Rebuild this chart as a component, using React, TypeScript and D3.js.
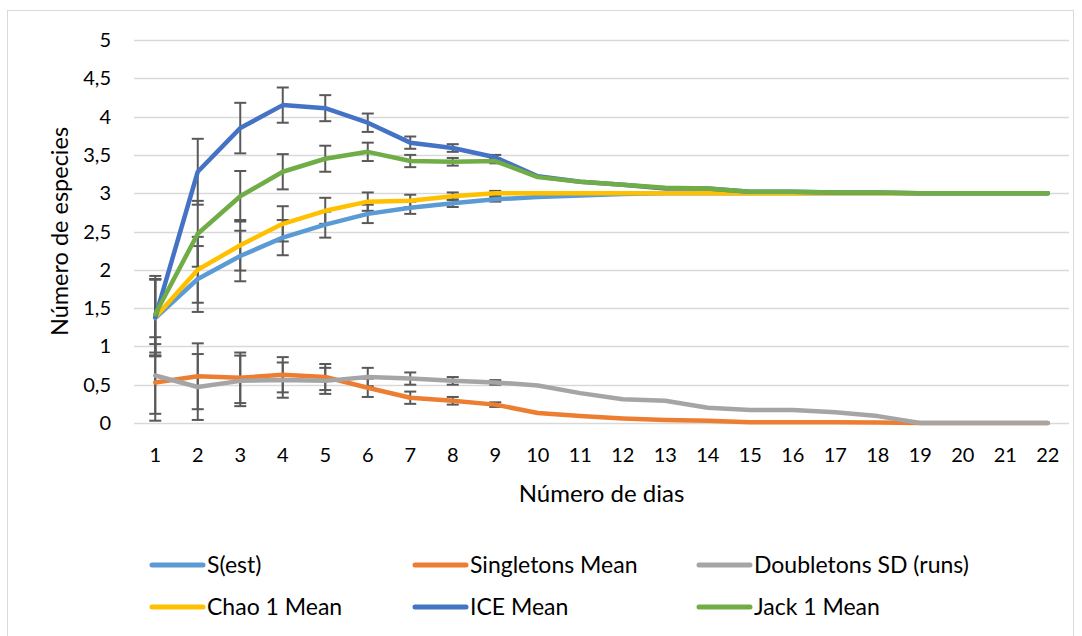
import React, { useEffect, useRef } from 'react';
import * as d3 from 'd3';

const days = d3.range(1, 23).map(String);
const yTicks = [0, 0.5, 1, 1.5, 2, 2.5, 3, 3.5, 4, 4.5, 5];

const sEst = [1.37, 1.88, 2.18, 2.42, 2.59, 2.73, 2.81, 2.87, 2.92, 2.95, 2.97, 2.99, 3, 3, 3, 3, 3, 3, 3, 3, 3, 3];
const singletons = [0.53, 0.61, 0.59, 0.63, 0.6, 0.46, 0.33, 0.29, 0.24, 0.13, 0.09, 0.06, 0.04, 0.03, 0.01, 0.01, 0.01, 0.005, 0, 0, 0, 0];
const doubletons = [0.62, 0.47, 0.55, 0.56, 0.55, 0.6, 0.58, 0.55, 0.53, 0.49, 0.39, 0.31, 0.29, 0.2, 0.17, 0.17, 0.14, 0.09, 0, 0, 0, 0];
const chao1 = [1.38, 2.0, 2.32, 2.6, 2.77, 2.89, 2.9, 2.96, 3, 3, 3, 3, 3, 3, 3, 3, 3, 3, 3, 3, 3, 3];
const ice = [1.38, 3.28, 3.85, 4.15, 4.11, 3.92, 3.66, 3.59, 3.47, 3.22, 3.15, 3.11, 3.06, 3.06, 3.02, 3.02, 3.01, 3.01, 3, 3, 3, 3];
const jack1 = [1.42, 2.47, 2.96, 3.28, 3.45, 3.54, 3.42, 3.41, 3.42, 3.21, 3.15, 3.11, 3.07, 3.06, 3.02, 3.02, 3.01, 3.01, 3, 3, 3, 3];
// SD shown as error bars (same for every series)
const sd = [0.5, 0.43, 0.33, 0.23, 0.17, 0.12, 0.08, 0.05, 0.03, 0, 0, 0, 0, 0, 0, 0, 0, 0, 0, 0, 0, 0];

const seriesNames = ['S(est)', 'Singletons Mean', 'Doubletons SD (runs)', 'Chao 1 Mean', 'ICE Mean', 'Jack 1 Mean'];
const seriesValues = [sEst, singletons, doubletons, chao1, ice, jack1];
const seriesColors = ['#5B9BD5', '#ED7D31', '#A5A5A5', '#FFC000', '#4472C4', '#70AD47'];

const FONT = 'Lato, "Open Sans", sans-serif';

export default function App() {
	const ref = useRef<SVGSVGElement>(null);

	useEffect(() => {
		const plot = { left: 134, right: 1069, top: 40, bottom: 423 };
		const svg = d3.select(ref.current);
		svg.selectAll('*').remove();

		// chart area border
		svg.append('rect')
			.attr('x', 7.5)
			.attr('y', 10.5)
			.attr('width', 1066)
			.attr('height', 660)
			.attr('fill', 'white')
			.attr('stroke', '#D9D9D9');

		const x = d3.scaleBand().domain(days).range([plot.left, plot.right]);
		const y = d3.scaleLinear().domain([0, 5]).range([plot.bottom, plot.top]);
		const cx = (i: number) => (x(days[i]) as number) + x.bandwidth() / 2;

		// gridlines
		svg.append('g')
			.selectAll('line')
			.data(yTicks)
			.enter()
			.append('line')
			.attr('x1', plot.left)
			.attr('x2', plot.right)
			.attr('y1', d => Math.round(y(d)) + 0.5)
			.attr('y2', d => Math.round(y(d)) + 0.5)
			.attr('stroke', '#D9D9D9')
			.attr('stroke-width', 1.3);

		// y tick labels
		svg.append('g')
			.selectAll('text')
			.data(yTicks)
			.enter()
			.append('text')
			.attr('x', 111)
			.attr('y', d => y(d))
			.attr('dy', '0.35em')
			.attr('text-anchor', 'end')
			.style('font', `20px ${FONT}`)
			.attr('fill', '#000')
			.text(d => String(d).replace('.', ','));

		// x tick labels
		svg.append('g')
			.selectAll('text')
			.data(days)
			.enter()
			.append('text')
			.attr('x', (d, i) => cx(i))
			.attr('y', 462)
			.attr('text-anchor', 'middle')
			.style('font', `20px ${FONT}`)
			.attr('fill', '#000')
			.text(d => d);

		// axis titles
		svg.append('text')
			.attr('x', (plot.left + plot.right) / 2)
			.attr('y', 502)
			.attr('text-anchor', 'middle')
			.style('font', `24px ${FONT}`)
			.text('Número de dias');
		svg.append('text')
			.attr('transform', `translate(68,${(plot.top + plot.bottom) / 2}) rotate(-90)`)
			.attr('text-anchor', 'middle')
			.style('font', `23.5px ${FONT}`)
			.text('Número de especies');

		// error bars
		const errG = svg.append('g').attr('stroke', '#595959').attr('stroke-width', 2);
		seriesValues.forEach(vals => {
			vals.forEach((v, i) => {
				if (!sd[i]) return;
				const x0 = cx(i);
				const lo = Math.max(0, v - sd[i]);
				const hi = v + sd[i];
				errG.append('line').attr('x1', x0).attr('x2', x0).attr('y1', y(lo)).attr('y2', y(hi));
				errG.append('line').attr('x1', x0 - 6).attr('x2', x0 + 6).attr('y1', y(lo)).attr('y2', y(lo));
				errG.append('line').attr('x1', x0 - 6).attr('x2', x0 + 6).attr('y1', y(hi)).attr('y2', y(hi));
			});
		});

		const makeLine = d3
			.line<number>()
			.x((d, i) => cx(i))
			.y(d => y(d));

		// series lines
		svg.append('g')
			.selectAll('path')
			.data(seriesValues)
			.enter()
			.append('path')
			.attr('fill', 'none')
			.attr('stroke', (d, i) => seriesColors[i])
			.attr('stroke-width', 4.5)
			.attr('stroke-linejoin', 'round')
			.attr('stroke-linecap', 'round')
			.attr('d', d => makeLine(d));

		// legend
		const legX = [150, 413, 697];
		const legY = [565, 607];
		const leg = svg.append('g')
			.selectAll('g')
			.data(seriesNames)
			.enter()
			.append('g')
			.attr('transform', (d, i) => `translate(${legX[i % 3]},${legY[Math.floor(i / 3)]})`);
		leg.append('line')
			.attr('x1', 2)
			.attr('x2', 53)
			.attr('stroke', (d, i) => seriesColors[i])
			.attr('stroke-width', 5)
			.attr('stroke-linecap', 'round');
		leg.append('text')
			.attr('x', 57)
			.attr('dy', '0.35em')
			.style('font', `23px ${FONT}`)
			.text(d => d);
	}, []);

	return (
		<div>
			<svg ref={ref} width={1082} height={636} style={{ position: 'absolute', left: 0, top: 0, background: 'white' }} />
		</div>
	);
}
